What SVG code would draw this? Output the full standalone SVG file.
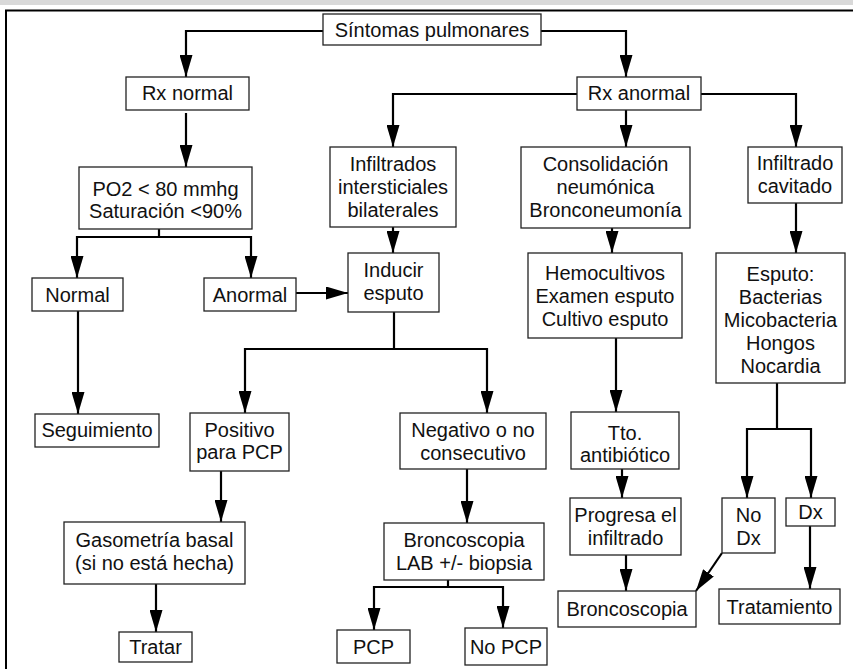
<svg xmlns="http://www.w3.org/2000/svg" width="853" height="669" viewBox="0 0 853 669">
<style>
.box{fill:#fff;stroke:#222;stroke-width:1.3}
text{font-family:"Liberation Sans",Arial,sans-serif;font-size:20px;fill:#111;text-anchor:middle}
.c{fill:none;stroke:#000;stroke-width:2.2}
.a{marker-end:url(#ah)}
</style>
<defs>
<marker id="ah" markerUnits="userSpaceOnUse" viewBox="0 0 22 13" markerWidth="22" markerHeight="13" refX="22" refY="6.5" orient="auto">
<path d="M0,0 L22,6.5 L0,13 z" fill="#000"/>
</marker>
</defs>
<rect x="0" y="0" width="853" height="669" fill="#fff"/>
<rect x="0" y="0" width="853" height="5" fill="#d9d9d9"/>
<path d="M6,669 V10.5 H853" fill="none" stroke="#000" stroke-width="2"/>

<g id="connectors">
<path class="c a" d="M323,31 H186 V77"/>
<path class="c a" d="M541,31 H626 V77"/>
<path class="c a" d="M186,113 V167"/>
<path class="c a" d="M577,94 H393 V147"/>
<path class="c a" d="M626,110 V147"/>
<path class="c a" d="M701,94 H796 V147"/>
<path class="c a" d="M159,229 V237 H77 V278"/>
<path class="c a" d="M159,237 H251 V278"/>
<path class="c a" d="M296,293 H348"/>
<path class="c a" d="M393,227 V253"/>
<path class="c a" d="M78,311 V414"/>
<path class="c a" d="M394,312 V349 H245 V413"/>
<path class="c a" d="M394,349 H487 V413"/>
<path class="c a" d="M221,471 V522"/>
<path class="c a" d="M156,584 V632"/>
<path class="c a" d="M467,469 V523"/>
<path class="c a" d="M448,580 V587 H374 V630"/>
<path class="c a" d="M448,587 H503 V628"/>
<path class="c a" d="M612,228 V253"/>
<path class="c a" d="M616,338 V412"/>
<path class="c a" d="M622,469 V498"/>
<path class="c a" d="M626,555 V591"/>
<path class="c a" d="M796,203 V253"/>
<path class="c a" d="M777,383 V429 H747 V498"/>
<path class="c a" d="M777,429 H811 V498"/>
<path class="c a" d="M722,553 L696,591"/>
<path class="c a" d="M810,526 V589"/>
</g>

<g id="sintomas"><rect class="box" x="323" y="14" width="218" height="31"/><text x="432" y="37">Síntomas pulmonares</text></g>
<g id="rx-normal"><rect class="box" x="126" y="77" width="123" height="33"/><text x="187.5" y="100">Rx normal</text></g>
<g id="rx-anormal"><rect class="box" x="577" y="77" width="124" height="33"/><text x="639" y="100">Rx anormal</text></g>
<g id="po2"><rect class="box" x="79" y="167" width="173" height="62"/><text x="165.5" y="196">PO2 &lt; 80 mmhg</text><text x="165.5" y="218">Saturación &lt;90%</text></g>
<g id="infiltrados"><rect class="box" x="330" y="147" width="126" height="80"/><text x="393" y="171">Infiltrados</text><text x="393" y="194">intersticiales</text><text x="393" y="217">bilaterales</text></g>
<g id="consolidacion"><rect class="box" x="521" y="147" width="169" height="81"/><text x="605.5" y="171">Consolidación</text><text x="605.5" y="194">neumónica</text><text x="605.5" y="217">Bronconeumonía</text></g>
<g id="cavitado"><rect class="box" x="748" y="147" width="94" height="56"/><text x="795" y="170">Infiltrado</text><text x="795" y="193">cavitado</text></g>
<g id="normal"><rect class="box" x="32" y="278" width="91" height="33"/><text x="77.5" y="302">Normal</text></g>
<g id="anormal"><rect class="box" x="204" y="278" width="92" height="33"/><text x="250" y="302">Anormal</text></g>
<g id="inducir"><rect class="box" x="348" y="253" width="91" height="59"/><text x="393.5" y="277">Inducir</text><text x="393.5" y="300">esputo</text></g>
<g id="hemocultivos"><rect class="box" x="528" y="253" width="154" height="85"/><text x="605" y="280">Hemocultivos</text><text x="605" y="303">Examen esputo</text><text x="605" y="326">Cultivo esputo</text></g>
<g id="esputo"><rect class="box" x="716" y="253" width="129" height="130"/><text x="780.5" y="281">Esputo:</text><text x="780.5" y="304">Bacterias</text><text x="780.5" y="327">Micobacteria</text><text x="780.5" y="350">Hongos</text><text x="780.5" y="373">Nocardia</text></g>
<g id="seguimiento"><rect class="box" x="35" y="414" width="124" height="33"/><text x="97" y="437">Seguimiento</text></g>
<g id="positivo"><rect class="box" x="190" y="413" width="99" height="58"/><text x="239.5" y="437">Positivo</text><text x="239.5" y="459">para PCP</text></g>
<g id="negativo"><rect class="box" x="400" y="413" width="146" height="56"/><text x="473" y="437">Negativo o no</text><text x="473" y="460">consecutivo</text></g>
<g id="tto"><rect class="box" x="571" y="412" width="108" height="57"/><text x="625" y="440">Tto.</text><text x="625" y="462">antibiótico</text></g>
<g id="no-dx"><rect class="box" x="722" y="498" width="53" height="55"/><text x="748.5" y="522">No</text><text x="748.5" y="545">Dx</text></g>
<g id="dx"><rect class="box" x="786" y="498" width="49" height="28"/><text x="810.5" y="519">Dx</text></g>
<g id="gasometria"><rect class="box" x="64" y="522" width="181" height="62"/><text x="154.5" y="547">Gasometría basal</text><text x="154.5" y="570">(si no está hecha)</text></g>
<g id="broncoscopia-lab"><rect class="box" x="384" y="523" width="160" height="57"/><text x="464" y="547">Broncoscopia</text><text x="464" y="570">LAB +/- biopsia</text></g>
<g id="progresa"><rect class="box" x="570" y="498" width="111" height="57"/><text x="625.5" y="522">Progresa el</text><text x="625.5" y="545">infiltrado</text></g>
<g id="broncoscopia"><rect class="box" x="558" y="591" width="138" height="36"/><text x="627" y="616">Broncoscopia</text></g>
<g id="tratamiento"><rect class="box" x="719" y="589" width="121" height="35"/><text x="779.5" y="614">Tratamiento</text></g>
<g id="tratar"><rect class="box" x="119" y="632" width="73" height="30"/><text x="155.5" y="654">Tratar</text></g>
<g id="pcp"><rect class="box" x="337" y="630" width="73" height="33"/><text x="373.5" y="654">PCP</text></g>
<g id="no-pcp"><rect class="box" x="465" y="628" width="82" height="37"/><text x="506" y="654">No PCP</text></g>
</svg>
